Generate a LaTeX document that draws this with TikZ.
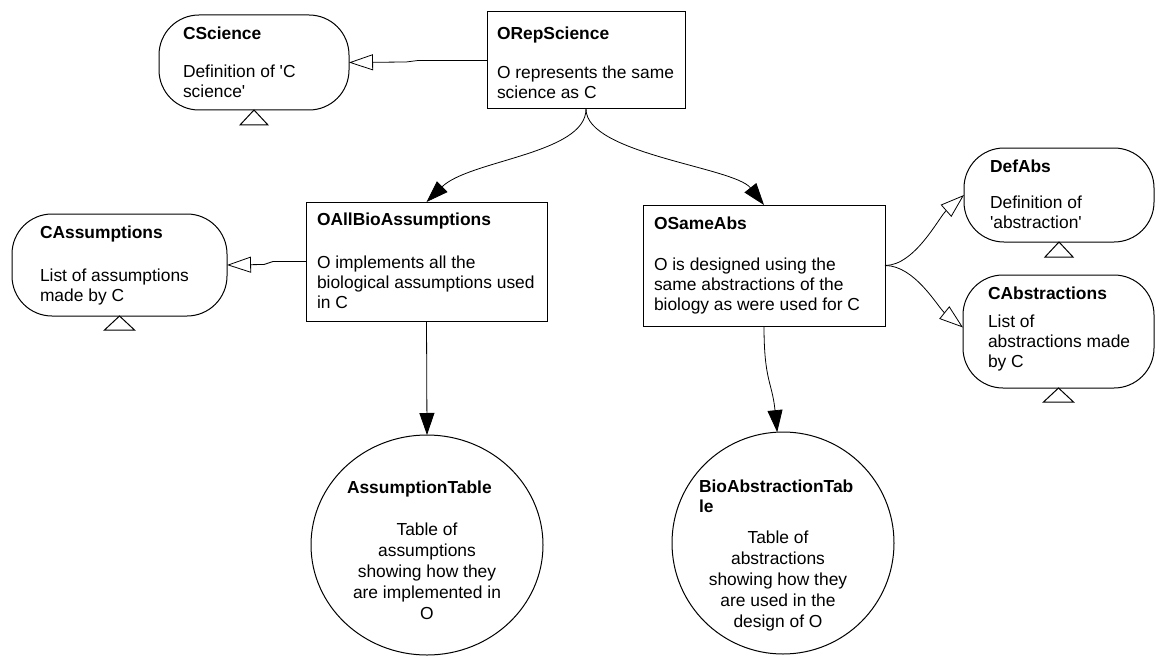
\documentclass[tikz,border=0pt]{standalone}
\usepackage{fontspec}
\setmainfont{Liberation Sans}
\usetikzlibrary{arrows.meta,shapes.geometric}
\begin{document}
\begin{tikzpicture}[x=1pt,y=-1pt,
  every node/.style={inner sep=0pt, outer sep=0pt},
  shp/.style={draw, line width=1pt},
  rbox/.style={shp, rectangle},
  stad/.style={shp, rectangle, rounded corners=40pt},
  oval/.style={shp, ellipse},
  tri/.style={draw, line width=1pt, line join=miter},
  refarrow/.style={draw, line width=0.8pt, -{Triangle[open, length=24pt, width=16pt, line width=0.8pt]}},
  deparrow/.style={draw, line width=0.8pt, -{Triangle[length=22pt, width=15pt]}},
  ttl/.style={anchor=base west, font=\fontsize{17.4}{20}\selectfont\bfseries},
  txt/.style={anchor=base west, font=\fontsize{17.4}{20}\selectfont},
  ctxt/.style={anchor=base, font=\fontsize{17.4}{21}\selectfont},
]
\useasboundingbox (0,0) rectangle (1156,658);

% shapes
\node[stad, minimum width=190pt, minimum height=95pt] (csci) at (254,62.5) {};
\node[rbox, minimum width=198pt, minimum height=97pt] (orep) at (586,60.5) {};
\node[stad, minimum width=215pt, minimum height=102pt] (cass) at (119.5,265) {};
\node[rbox, minimum width=241pt, minimum height=119pt] (oall) at (426.5,261.5) {};
\node[rbox, minimum width=242pt, minimum height=121pt] (osame) at (764,265.5) {};
\node[stad, minimum width=190pt, minimum height=94pt] (defabs) at (1059,195) {};
\node[stad, minimum width=191pt, minimum height=113pt] (cabs) at (1058.5,331.5) {};
\node[oval, minimum width=232pt, minimum height=220pt] (atab) at (427,545) {};
\node[oval, minimum width=222pt, minimum height=222pt] (btab) at (783,543) {};

% collapse markers
\draw[tri] (csci.south) -- ++(-14,15) -- ++(28,0) -- cycle;
\draw[tri] (cass.south) -- ++(-15,14) -- ++(30,0) -- cycle;
\draw[tri] (defabs.south) -- ++(-14,15) -- ++(28,0) -- cycle;
\draw[tri] (cabs.south) -- ++(-15,14) -- ++(30,0) -- cycle;

% texts
\node[ttl] (csci-t) at (183,40) {CScience};
\node[txt] (csci-b) at (183,78) {\begin{tabular}[t]{@{}l@{}}Definition of \textquotesingle C\\science\textquotesingle\end{tabular}};

\node[ttl] (orep-t) at (497,40) {ORepScience};
\node[txt] (orep-b) at (497,79) {\begin{tabular}[t]{@{}l@{}}O represents the same\\science as C\end{tabular}};

\node[ttl] (cass-t) at (40,238) {CAssumptions};
\node[txt] (cass-b) at (40,281) {\begin{tabular}[t]{@{}l@{}}List of assumptions\\made by C\end{tabular}};

\node[ttl] (oall-t) at (317,225) {OAllBioAssumptions};
\node[txt] (oall-b) at (317,268) {\begin{tabular}[t]{@{}l@{}}O implements all the\\biological assumptions used\\in C\end{tabular}};

\node[ttl] (osame-t) at (654,229) {OSameAbs};
\node[txt] (osame-b) at (654,270) {\begin{tabular}[t]{@{}l@{}}O is designed using the\\same abstractions of the\\biology as were used for C\end{tabular}};

\node[ttl] (defabs-t) at (990,172) {DefAbs};
\node[txt] (defabs-b) at (990,208) {\begin{tabular}[t]{@{}l@{}}Definition of\\\textquotesingle abstraction\textquotesingle\end{tabular}};

\node[ttl] (cabs-t) at (988,299) {CAbstractions};
\node[txt] (cabs-b) at (988,327) {\begin{tabular}[t]{@{}l@{}}List of\\abstractions made\\by C\end{tabular}};

\node[ttl] (atab-t) at (347,493) {AssumptionTable};
\node[ctxt] (atab-b) at (427,535) {\begin{tabular}[t]{@{}c@{}}Table of\\assumptions\\showing how they\\are implemented in\\O\end{tabular}};

\node[ttl] (btab-t) at (699,492) {\begin{tabular}[t]{@{}l@{}}BioAbstractionTab\\le\end{tabular}};
\node[ctxt] (btab-b) at (778,543) {\begin{tabular}[t]{@{}c@{}}Table of\\abstractions\\showing how they\\are used in the\\design of O\end{tabular}};

% connectors
\draw[refarrow] (orep.west) -- ++(-69,0) -- ++(-12,1.5) -- (csci.east);
\draw[refarrow] (oall.west) -- ++(-33,0) -- ++(-9,3) -- (cass.east);
\draw[deparrow] (orep.south) .. controls +(0,45) and +(43,-42) .. (oall.north);
\draw[deparrow] (orep.south) .. controls +(0,45) and +(-30,-38) .. (osame.north);
\draw[deparrow] (oall.south) -- (atab.north);
\draw[deparrow] (osame.south) .. controls +(0,55) and +(-5,-50) .. (btab.93);
\draw[refarrow] (osame.east) .. controls +(30,0) and +(-25,22) .. (defabs.west);
\draw[refarrow] (osame.east) .. controls +(30,0) and +(-25,-20) .. ([yshift=4pt]cabs.west);
\end{tikzpicture}
\end{document}
